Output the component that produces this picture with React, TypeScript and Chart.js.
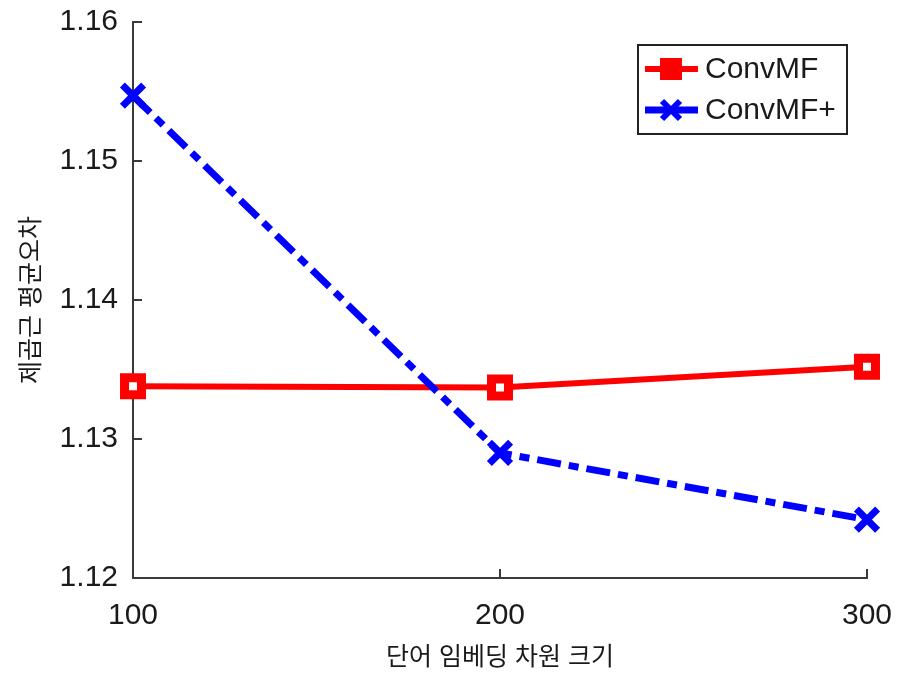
import React, { useEffect, useRef } from "react";
import { Chart, registerables } from "chart.js";

Chart.register(...registerables);

const embeddingDims = [100, 200, 300];
const convMF = [1.1338, 1.1337, 1.1352];
const convMFPlus = [1.1547, 1.129, 1.1242];
const yTicks = [1.12, 1.13, 1.14, 1.15, 1.16];
const xTicks = [100, 200, 300];
const seriesNames = ["ConvMF", "ConvMF+"];
const xTitle = "단어 임베딩 차원 크기";
const yTitle = "제곱근 평균오차";

const RED = "#ff0000";
const BLUE = "#0000ff";
const AXIS = "#3a3a3a";
const FONT = '"Liberation Sans", Arial, "Noto Sans CJK KR", sans-serif';
const DASH = [24, 8, 10, 8];

const inwardTicks = {
  id: "inwardTicks",
  afterDraw(chart: any) {
    const { ctx, chartArea: ca, scales } = chart;
    ctx.save();
    ctx.strokeStyle = AXIS;
    ctx.lineWidth = 2;
    ctx.beginPath();
    yTicks.forEach((v) => {
      const y = Math.round(scales.y.getPixelForValue(v));
      ctx.moveTo(ca.left, y);
      ctx.lineTo(ca.left + 9, y);
    });
    xTicks.forEach((v) => {
      const x = Math.round(scales.x.getPixelForValue(v));
      ctx.moveTo(x, ca.bottom);
      ctx.lineTo(x, ca.bottom - 9);
    });
    ctx.stroke();
    ctx.restore();
  },
};

const boxLegend = {
  id: "boxLegend",
  afterDraw(chart: any) {
    const { ctx, chartArea: ca } = chart;
    const w = 209;
    const h = 89;
    const bx = ca.right - 20 - w;
    const by = ca.top + 23;
    ctx.save();
    ctx.fillStyle = "#ffffff";
    ctx.fillRect(bx, by, w, h);
    ctx.strokeStyle = "#222";
    ctx.lineWidth = 2;
    ctx.strokeRect(bx, by, w, h);
    const rows = [by + 24, by + 65];
    ctx.font = `30px ${FONT}`;
    ctx.textBaseline = "middle";
    rows.forEach((y, i) => {
      const color = i === 0 ? RED : BLUE;
      ctx.strokeStyle = color;
      ctx.lineWidth = i === 0 ? 6 : 7;
      ctx.setLineDash([]);
      ctx.beginPath();
      ctx.moveTo(bx + 7, y);
      ctx.lineTo(bx + 60, y);
      ctx.stroke();
      const mx = bx + 33;
      if (i === 0) {
        ctx.fillStyle = RED;
        ctx.fillRect(mx - 11, y - 11, 22, 22);
      } else {
        ctx.lineWidth = 6;
        ctx.beginPath();
        ctx.moveTo(mx - 9, y - 9);
        ctx.lineTo(mx + 9, y + 9);
        ctx.moveTo(mx + 9, y - 9);
        ctx.lineTo(mx - 9, y + 9);
        ctx.stroke();
      }
      ctx.fillStyle = "#1a1a1a";
      ctx.fillText(seriesNames[i], bx + 67, y + 1);
    });
    ctx.restore();
  },
};

export default function App() {
  const ref = useRef<HTMLCanvasElement | null>(null);
  useEffect(() => {
    document.body.style.margin = "0";
    const canvas = ref.current!;
    const chart = new Chart(canvas, {
      type: "line",
      data: {
        datasets: [
          {
            label: seriesNames[0],
            data: embeddingDims.map((x, i) => ({ x, y: convMF[i] })),
            borderColor: RED,
            borderWidth: 6,
            pointStyle: "rect",
            pointRadius: 12,
            pointBorderWidth: 9,
            pointBackgroundColor: "#ffffff",
            pointBorderColor: RED,
            clip: false as any,
            order: 1,
          },
          {
            label: seriesNames[1],
            data: embeddingDims.map((x, i) => ({ x, y: convMFPlus[i] })),
            borderColor: BLUE,
            borderWidth: 7,
            borderDash: DASH,
            pointStyle: "crossRot",
            pointRadius: 15,
            pointBorderWidth: 7,
            pointBorderColor: BLUE,
            clip: false as any,
            order: 0,
          },
        ],
      },
      options: {
        animation: false,
        responsive: false,
        devicePixelRatio: 1,
        layout: { padding: { left: 0, top: 20, right: 30, bottom: 0 } },
        plugins: { legend: { display: false }, tooltip: { enabled: false } },
        scales: {
          x: {
            type: "linear",
            min: 100,
            max: 300,
            afterFit: (s: any) => {
              s.height = 99;
              s.paddingLeft = 0;
              s.paddingRight = 0;
            },
            afterBuildTicks: (s: any) => {
              s.ticks = xTicks.map((v) => ({ value: v }));
            },
            grid: { display: false, drawTicks: false },
            border: { display: true, color: AXIS, width: 2 },
            ticks: {
              padding: 20,
              color: "#1a1a1a",
              font: { family: FONT, size: 30 },
              maxRotation: 0,
              callback: (v: any) => String(v),
            },
            title: {
              display: true,
              text: xTitle,
              color: "#1a1a1a",
              font: { family: FONT, size: 25 },
              padding: { top: 0, bottom: 4 },
            },
          },
          y: {
            type: "linear",
            min: 1.12,
            max: 1.16,
            afterFit: (s: any) => {
              s.width = 133;
              s.paddingTop = 0;
              s.paddingBottom = 0;
            },
            afterBuildTicks: (s: any) => {
              s.ticks = yTicks.map((v) => ({ value: v }));
            },
            grid: { display: false, drawTicks: false },
            border: { display: true, color: AXIS, width: 2 },
            ticks: {
              padding: 15,
              color: "#1a1a1a",
              font: { family: FONT, size: 30 },
              callback: (v: any) => Number(v).toFixed(2),
            },
            title: {
              display: true,
              text: yTitle,
              color: "#1a1a1a",
              font: { family: FONT, size: 25 },
              padding: { top: 17, bottom: 0 },
            },
          },
        },
      },
      plugins: [inwardTicks, boxLegend],
    });
    return () => chart.destroy();
  }, []);
  return (
    <div style={{ position: "fixed", left: 0, top: 0, width: 897, height: 677, background: "#fff" }}>
      <canvas ref={ref} width={897} height={677} />
    </div>
  );
}
